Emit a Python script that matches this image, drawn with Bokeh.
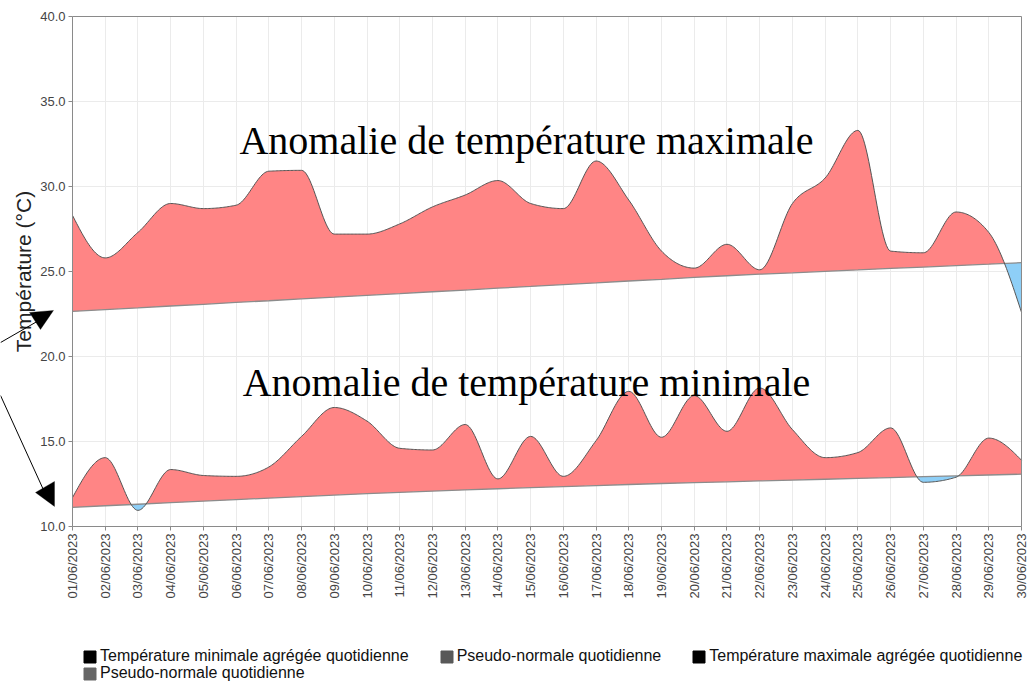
import math
import numpy as np
from bokeh.plotting import figure
from bokeh.models import (Range1d, FixedTicker, Legend, LegendItem, Arrow,
                          PolyAnnotation, LinearAxis, Grid)
from bokeh.core.properties import value
from bokeh.embed import file_html
from bokeh.resources import INLINE

# ---------------- data ----------------
dates = ["01/06/2023", "02/06/2023", "03/06/2023", "04/06/2023", "05/06/2023",
         "06/06/2023", "07/06/2023", "08/06/2023", "09/06/2023", "10/06/2023",
         "11/06/2023", "12/06/2023", "13/06/2023", "14/06/2023", "15/06/2023",
         "16/06/2023", "17/06/2023", "18/06/2023", "19/06/2023", "20/06/2023",
         "21/06/2023", "22/06/2023", "23/06/2023", "24/06/2023", "25/06/2023",
         "26/06/2023", "27/06/2023", "28/06/2023", "29/06/2023", "30/06/2023"]

tmax = [28.3, 25.8, 27.3, 29.0, 28.7, 28.9, 30.9, 30.95, 27.2, 27.2,
        27.8, 28.8, 29.5, 30.35, 29.0, 28.7, 31.5, 29.2, 26.2, 25.2,
        26.6, 25.1, 29.0, 30.5, 33.3, 26.2, 26.1, 28.5, 27.3, 22.6]

tmax_normal = [22.65, 22.76, 22.86, 22.97, 23.07, 23.18, 23.28, 23.39, 23.49, 23.60,
               23.70, 23.81, 23.91, 24.02, 24.12, 24.23, 24.33, 24.44, 24.54, 24.65,
               24.75, 24.84, 24.92, 25.01, 25.09, 25.18, 25.26, 25.35, 25.43, 25.52]

tmin = [11.7, 14.05, 10.95, 13.35, 13.0, 12.95, 13.5, 15.3, 17.0, 16.2,
        14.6, 14.5, 16.0, 12.8, 15.3, 12.95, 15.05, 17.95, 15.25, 17.7,
        15.6, 18.15, 15.7, 14.05, 14.35, 15.8, 12.6, 12.9, 15.2, 13.9]

tmin_normal = [11.12, 11.22, 11.31, 11.40, 11.49, 11.58, 11.67, 11.76, 11.85, 11.93,
               12.01, 12.08, 12.15, 12.22, 12.29, 12.35, 12.41, 12.47, 12.53, 12.58,
               12.63, 12.68, 12.73, 12.78, 12.83, 12.88, 12.93, 12.98, 13.03, 13.08]

y_ticks = [10, 15, 20, 25, 30, 35, 40]

legend_labels = ["Température minimale agrégée quotidienne",
                 "Pseudo-normale quotidienne",
                 "Température maximale agrégée quotidienne",
                 "Pseudo-normale quotidienne"]
legend_colors = ["#000000", "#595959", "#000000", "#666666"]

title_max = "Anomalie de température maximale"
title_min = "Anomalie de température minimale"

RED = "#FF8585"
BLUE = "#8ECFF7"
AXIS_GREY = "#8a8a8a"
GRID_GREY = "#ebebeb"

# ------------- smooth (monotone X) rendering helper -------------
def monotone(y, n=24):
    y = np.asarray(y, float)
    N = len(y)
    s = np.diff(y)  # h = 1
    m = np.zeros(N)
    for i in range(1, N - 1):
        s0, s1 = s[i - 1], s[i]
        p_ = (s0 + s1) / 2.0
        m[i] = (np.sign(s0) + np.sign(s1)) * min(abs(s0), abs(s1), 0.5 * abs(p_))
    m[0] = (3 * s[0] - m[1]) / 2.0
    m[-1] = (3 * s[-1] - m[-2]) / 2.0
    xs, ys = [], []
    for i in range(N - 1):
        t = np.linspace(0, 1, n, endpoint=False)
        h00 = 2 * t**3 - 3 * t**2 + 1
        h10 = t**3 - 2 * t**2 + t
        h01 = -2 * t**3 + 3 * t**2
        h11 = t**3 - t**2
        xs.append(i + t)
        ys.append(h00 * y[i] + h10 * m[i] + h01 * y[i + 1] + h11 * m[i + 1])
    xs.append(np.array([N - 1.0]))
    ys.append(np.array([y[-1]]))
    return np.concatenate(xs), np.concatenate(ys)

x_idx = list(range(len(dates)))
last = x_idx[-1]
y_lo, y_hi = y_ticks[0], y_ticks[-1]

# The frame covers the whole canvas; axes are pinned at the data edges.
W, H = 1030, 681
px_per_day = 949.0 / last
px_per_deg = 510.0 / (y_hi - y_lo)
x_rng = (-72.0 / px_per_day, last + 9.0 / px_per_day)
y_rng = (y_hi - (H - 16.0) / px_per_deg, y_hi + 16.0 / px_per_deg)

p = figure(width=W, height=H, output_backend="svg", toolbar_location=None,
           x_range=Range1d(*x_rng), y_range=Range1d(*y_rng),
           min_border_left=0, min_border_right=0, min_border_top=0,
           min_border_bottom=0)
p.background_fill_color = "white"
p.border_fill_color = "white"
p.outline_line_color = None

# grid (limited to the plotting area)
if "cross_bounds" in Grid.properties():
    p.xgrid.ticker = FixedTicker(ticks=x_idx)
    p.xgrid.grid_line_color = GRID_GREY
    p.xgrid.cross_bounds = (y_lo, y_hi)
    p.ygrid.ticker = FixedTicker(ticks=y_ticks)
    p.ygrid.grid_line_color = GRID_GREY
    p.ygrid.cross_bounds = (0, last)
else:
    p.xgrid.visible = False
    p.ygrid.visible = False
    p.segment(x0=x_idx, x1=x_idx, y0=[y_lo] * len(x_idx), y1=[y_hi] * len(x_idx),
              line_color=GRID_GREY, line_width=1)
    p.segment(x0=[0] * len(y_ticks), x1=[last] * len(y_ticks), y0=y_ticks, y1=y_ticks,
              line_color=GRID_GREY, line_width=1)

for obs, nrm in ((tmax, tmax_normal), (tmin, tmin_normal)):
    xs, ys = monotone(obs)
    nys = np.interp(xs, x_idx, nrm)
    p.varea(x=xs, y1=nys, y2=np.maximum(ys, nys), fill_color=RED, fill_alpha=1.0)
    p.varea(x=xs, y1=np.minimum(ys, nys), y2=nys, fill_color=BLUE, fill_alpha=1.0)
    p.line(x=x_idx, y=nrm, line_color="#8c8c8c", line_width=1.3)
    p.line(x=xs, y=ys, line_color="#555555", line_width=1.0)

# annotation texts
p.text(x=[13.874], y=[32.71], text=[title_max], text_font=value("Liberation Serif"),
       text_font_size="40px", text_color="#000000", text_align="center",
       text_baseline="alphabetic")
p.text(x=[13.874], y=[18.47], text=[title_min], text_font=value("Liberation Serif"),
       text_font_size="40px", text_color="#000000", text_align="center",
       text_baseline="alphabetic")

# arrows at the left
p.add_layout(Arrow(end=None, x_start=-2.20, y_start=20.82, x_end=-1.0, y_end=22.15,
                   line_color="black", line_width=1))
p.add_layout(PolyAnnotation(xs=[-1.314, -0.581, -0.978], ys=[22.59, 22.71, 21.59],
                            fill_color="black", fill_alpha=1, line_color="black"))
p.add_layout(Arrow(end=None, x_start=-2.20, y_start=17.71, x_end=-0.85, y_end=12.0,
                   line_color="black", line_width=1))
p.add_layout(PolyAnnotation(xs=[-0.550, -1.131, -0.550], ys=[12.65, 12.0, 11.18],
                            fill_color="black", fill_alpha=1, line_color="black"))

# axes
p.xaxis.ticker = FixedTicker(ticks=x_idx)
p.xaxis.major_label_overrides = {i: d for i, d in enumerate(dates)}
p.xaxis.major_label_orientation = math.pi / 2
p.xaxis.bounds = (0, last)
p.xaxis.fixed_location = y_lo
p.yaxis.ticker = FixedTicker(ticks=y_ticks)
p.yaxis.major_label_overrides = {t: f"{t:.1f}" for t in y_ticks}
p.yaxis.bounds = (y_lo, y_hi)
p.yaxis.fixed_location = 0
for ax in (p.xaxis[0], p.yaxis[0]):
    ax.axis_line_color = AXIS_GREY
    ax.major_tick_line_color = AXIS_GREY
    ax.major_tick_out = 4
    ax.major_tick_in = 0
    ax.minor_tick_line_color = None
    ax.major_label_text_font = "Liberation Sans"
    ax.major_label_text_font_size = "13px"
    ax.major_label_text_color = "#444444"
    ax.major_label_standoff = 3
p.yaxis.axis_label = "Température (°C)"
p.yaxis.axis_label_text_font = "Liberation Sans"
p.yaxis.axis_label_text_font_size = "21px"
p.yaxis.axis_label_text_font_style = "normal"
p.yaxis.axis_label_text_color = "#222222"
p.yaxis.axis_label_standoff = 2

# top and right borders of the plotting area
top_ax = LinearAxis(ticker=FixedTicker(ticks=[]), bounds=(0, last), fixed_location=y_hi,
                    axis_line_color=AXIS_GREY, major_tick_line_color=None,
                    minor_tick_line_color=None, major_label_text_font_size="0px")
right_ax = LinearAxis(ticker=FixedTicker(ticks=[]), bounds=(y_lo, y_hi), fixed_location=last,
                      axis_line_color=AXIS_GREY, major_tick_line_color=None,
                      minor_tick_line_color=None, major_label_text_font_size="0px")
p.add_layout(top_ax, "above")
p.add_layout(right_ax, "right")

# legend below the chart
rends = []
for c in legend_colors:
    r = p.quad(left=[-10], right=[-9], top=[-9], bottom=[-10], fill_color=c, line_color=c)
    rends.append(r)

leg1 = Legend(items=[LegendItem(label=legend_labels[i], renderers=[rends[i]]) for i in range(3)],
              orientation="horizontal", location=(82, 16))
leg2 = Legend(items=[LegendItem(label=legend_labels[3], renderers=[rends[3]])],
              orientation="horizontal", location=(82, -1))
for lg in (leg1, leg2):
    lg.label_text_font = "Liberation Sans"
    lg.label_text_font_size = "16px"
    lg.label_text_color = "#111111"
    lg.glyph_width = 15
    lg.glyph_height = 15
    lg.label_standoff = 3
    lg.spacing = 30
    lg.padding = 0
    lg.margin = 0
    lg.border_line_color = None
    lg.background_fill_alpha = 0
    lg.label_height = 16
    lg.label_text_baseline = "middle"
    p.add_layout(lg)

open("out.html", "w").write(file_html(p, INLINE))
